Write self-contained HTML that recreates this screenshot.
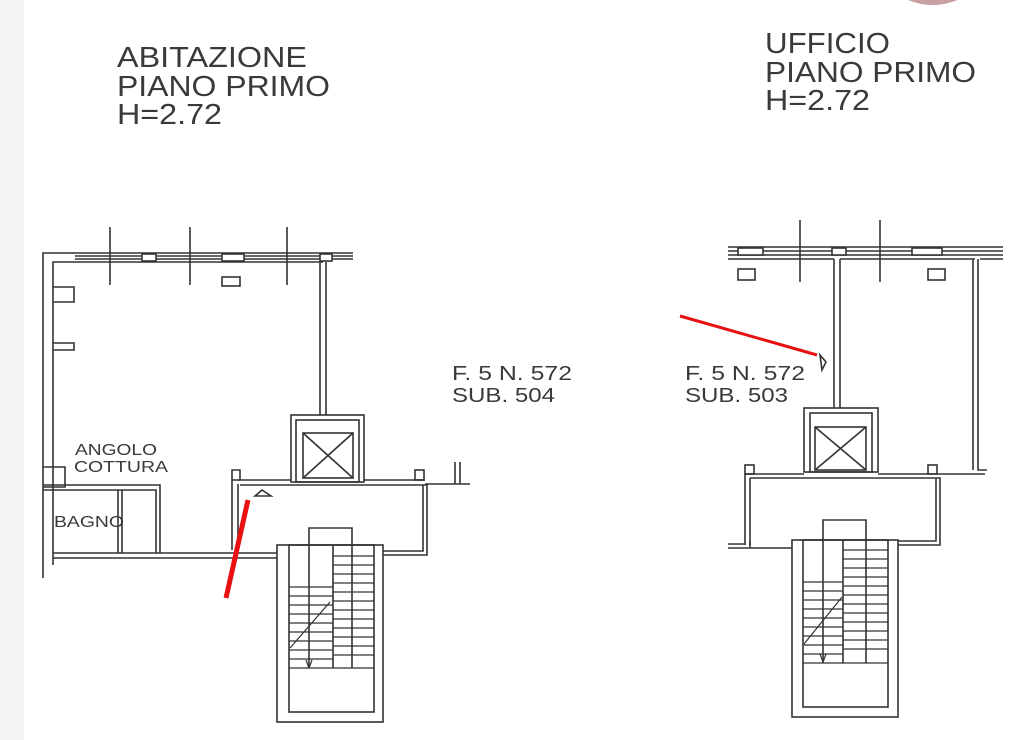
<!DOCTYPE html>
<html><head><meta charset="utf-8"><style>
html,body{margin:0;padding:0;background:#fff;}
svg{display:block;}
text{font-family:"Liberation Sans",sans-serif;fill:#3a3a3a;}
</style></head><body>
<svg width="1024" height="740" viewBox="0 0 1024 740" xmlns="http://www.w3.org/2000/svg">
<rect x="0" y="0" width="24" height="740" fill="#f4f4f6"/>
<path d="M908 0 Q932 10 958 0 Z" fill="#c9a0a4"/>
<text x="117" y="67" font-size="29" textLength="190" lengthAdjust="spacingAndGlyphs">ABITAZIONE</text>
<text x="117" y="96" font-size="29" textLength="213" lengthAdjust="spacingAndGlyphs">PIANO PRIMO</text>
<text x="117" y="124" font-size="29" textLength="105" lengthAdjust="spacingAndGlyphs">H=2.72</text>
<text x="765" y="53" font-size="29" textLength="125" lengthAdjust="spacingAndGlyphs">UFFICIO</text>
<text x="765" y="82" font-size="29" textLength="211" lengthAdjust="spacingAndGlyphs">PIANO PRIMO</text>
<text x="765" y="110" font-size="29" textLength="105" lengthAdjust="spacingAndGlyphs">H=2.72</text>
<text x="452" y="380" font-size="20" textLength="120" lengthAdjust="spacingAndGlyphs">F. 5 N. 572</text>
<text x="452" y="402" font-size="20" textLength="103" lengthAdjust="spacingAndGlyphs">SUB. 504</text>
<text x="685" y="380" font-size="20" textLength="120" lengthAdjust="spacingAndGlyphs">F. 5 N. 572</text>
<text x="685" y="402" font-size="20" textLength="103" lengthAdjust="spacingAndGlyphs">SUB. 503</text>
<text x="75" y="455" font-size="16" textLength="82" lengthAdjust="spacingAndGlyphs">ANGOLO</text>
<text x="74" y="472" font-size="16" textLength="94" lengthAdjust="spacingAndGlyphs">COTTURA</text>
<text x="54" y="527" font-size="16" textLength="70" lengthAdjust="spacingAndGlyphs">BAGNO</text>

<g fill="none" stroke="#333" stroke-width="1.6">
<line x1="110" y1="227" x2="110" y2="285"/><line x1="190" y1="227" x2="190" y2="285"/><line x1="287" y1="227" x2="287" y2="285"/>
<path d="M43 578 V253 H353 M53 565 V262 H323"/>
<line x1="75" y1="256" x2="353" y2="256"/><line x1="75" y1="259" x2="353" y2="259"/>
<rect x="142" y="254" width="14" height="7" fill="#fff"/><rect x="222" y="254" width="22" height="7" fill="#fff"/><rect x="320" y="254" width="12" height="7" fill="#fff"/>
<rect x="222" y="277" width="18" height="9"/>
<path d="M53 287 H74 V302 H53 M53 343 H74 V350 H53"/>
<path d="M320 262 V415 M326 262 V415"/>
<rect x="291" y="415" width="73" height="67"/><rect x="296" y="420" width="63" height="62"/>
<rect x="303" y="433" width="50" height="45"/><path d="M303 433 L353 478 M353 433 L303 478"/>
<path d="M43 467 H65 V487 H43"/>
<path d="M43 485 H160 V553 M43 490 H156 V553 M118 490 V553 M122 490 V553"/>
<path d="M53 553 H277 M53 558 H277"/>
<path d="M232 470 H240 V480 H232 Z M232 480 V550 M238 484 V550"/>
<path d="M238 480 H291 M364 480 H425 M240 485 H427 V555 H383 M423 485 V551 H383"/>
<path d="M425 484 H470 M455 462 V484 M460 462 V484"/>
<rect x="415" y="470" width="9" height="10"/>
<path d="M255 496 L262 490 L271 496 Z"/>
<rect x="277" y="545" width="106" height="177"/><rect x="289" y="545" width="85" height="167"/>
<path d="M309 548 V528 H352 V668 M309 548 V668 M333 545 V668 M352 545 V668"/>
<g stroke-width="1.2">
<path d="M333 556 H374 M333 565 H374 M333 574 H374 M333 583 H374 M333 592 H374 M333 601 H374 M333 610 H374 M333 619 H374 M333 628 H374 M333 637 H374 M333 646 H374 M333 655 H374 M289 668 H374"/>
<path d="M289 587 H333 M289 596 H333 M289 605 H333 M289 614 H333 M289 623 H333 M289 632 H333 M289 641 H333 M289 650 H333 M289 659 H333"/>
<path d="M290 648 L330 602 M309 668 L306 660 M309 668 L312 660"/>
</g>
<line x1="800" y1="220" x2="800" y2="282"/><line x1="880" y1="220" x2="880" y2="282"/>
<path d="M728 247 H1003 M728 259 H834 M840 259 H975 M980 259 H1003 M728 251 H1003 M728 255 H1003"/>
<rect x="738" y="248" width="25" height="7" fill="#fff"/><rect x="832" y="248" width="14" height="7" fill="#fff"/><rect x="912" y="248" width="30" height="7" fill="#fff"/>
<rect x="738" y="269" width="17" height="11"/><rect x="928" y="269" width="17" height="11"/>
<path d="M834 259 V408 M840 259 V408 M973 259 V470 M978 259 V470 H987"/>
<rect x="804" y="408" width="74" height="64"/><rect x="810" y="413" width="62" height="59"/>
<rect x="815" y="427" width="51" height="43"/><path d="M815 427 L866 470 M866 427 L815 470"/>
<path d="M745 474 H804 M878 474 H985 M750 478 H940 V545 H898 M745 474 V545 M750 478 V545 M936 478 V541 H898"/>
<rect x="745" y="465" width="9" height="9"/><rect x="928" y="465" width="9" height="9"/>
<path d="M728 548 H792 M728 544 H745 M750 541 V548"/>
<path d="M820 355 L826 362 L822 370 Z"/>
<rect x="792" y="540" width="106" height="177"/><rect x="803" y="540" width="85" height="167"/>
<path d="M823 540 V520 H866 V663 M823 540 V663 M843 540 V663"/>
<g stroke-width="1.2">
<path d="M843 550 H888 M843 559 H888 M843 568 H888 M843 577 H888 M843 586 H888 M843 595 H888 M843 604 H888 M843 613 H888 M843 622 H888 M843 631 H888 M843 640 H888 M843 649 H888 M803 663 H888"/>
<path d="M803 582 H843 M803 591 H843 M803 600 H843 M803 609 H843 M803 618 H843 M803 627 H843 M803 636 H843 M803 645 H843 M803 654 H843"/>
<path d="M804 644 L842 597 M823 662 L820 654 M823 662 L826 654"/>
</g>
</g>
<line x1="248" y1="500" x2="226" y2="598" stroke="#e81010" stroke-width="5"/>
<line x1="680" y1="316" x2="817" y2="355" stroke="#e81010" stroke-width="3"/>
</svg>
</body></html>
